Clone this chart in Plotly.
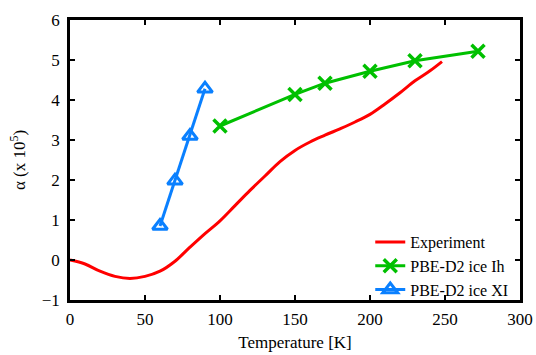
import plotly.graph_objects as go

# Experiment
exp_T = [0, 10, 20, 30, 40, 50, 60, 70, 80, 90, 100, 110, 120, 130, 140, 150,
         160, 170, 180, 190, 200, 210, 220, 230, 240, 248]
exp_alpha = [0.0, -0.1, -0.28, -0.41, -0.46, -0.41, -0.28, -0.03, 0.32, 0.66, 0.98,
             1.36, 1.74, 2.1, 2.46, 2.74, 2.95, 3.12, 3.28, 3.45, 3.64, 3.9, 4.18,
             4.48, 4.73, 4.96]

# PBE-D2 ice Ih
ih_T = [100, 150, 170, 200, 230, 272]
ih_alpha = [3.35, 4.14, 4.42, 4.72, 4.98, 5.22]

# PBE-D2 ice XI
xi_T = [60, 70, 80, 90]
xi_alpha = [0.85, 1.98, 3.1, 4.28]

x_ticks = [0, 50, 100, 150, 200, 250, 300]
y_ticks = [-1, 0, 1, 2, 3, 4, 5, 6]

FONT = "Times New Roman, Liberation Serif, serif"

fig = go.Figure()
fig.add_trace(go.Scatter(x=exp_T, y=exp_alpha, mode="lines", name="Experiment",
                         line=dict(color="#ff0000", width=3, shape="spline")))
fig.add_trace(go.Scatter(x=ih_T, y=ih_alpha, mode="lines+markers", name="PBE-D2 ice Ih",
                         line=dict(color="#00c000", width=3),
                         marker=dict(symbol="x-thin", size=13,
                                     line=dict(color="#00c000", width=3.5))))
fig.add_trace(go.Scatter(x=xi_T, y=xi_alpha, mode="lines+markers", name="PBE-D2 ice XI",
                         line=dict(color="#0a80ff", width=3),
                         marker=dict(symbol="triangle-up-open", size=13,
                                     line=dict(color="#0a80ff", width=3))))

axis_common = dict(showline=True, linecolor="black", linewidth=2.5, mirror="allticks",
                   ticks="inside", ticklen=5, tickwidth=2, tickcolor="black",
                   showgrid=False, zeroline=False, automargin=False,
                   tickfont=dict(family=FONT, size=17, color="black"))

fig.update_xaxes(range=[0, 300], tickvals=x_ticks, ticklabelstandoff=2,
                 title=dict(text="Temperature [K]", font=dict(family=FONT, size=17, color="black"),
                            standoff=8),
                 **axis_common)
fig.update_yaxes(range=[-1, 6], tickvals=y_ticks, ticklabelstandoff=4,
                 title=dict(text="α (x 10<sup>5</sup>)", font=dict(family=FONT, size=17, color="black"),
                            standoff=12),
                 **axis_common)

fig.update_layout(
    width=536, height=355,
    margin=dict(l=70, r=16, t=20, b=55),
    paper_bgcolor="white", plot_bgcolor="white",
    font=dict(family=FONT, size=17, color="black"),
    legend=dict(x=0.985, y=-0.025, xanchor="right", yanchor="bottom",
                bgcolor="rgba(0,0,0,0)", font=dict(family=FONT, size=16, color="black"),
                tracegroupgap=0, itemwidth=30),
    showlegend=True,
)

fig.write_html("out.html", config={"displayModeBar": False},
               post_script="document.body.style.margin='0';document.body.style.padding='0';")
